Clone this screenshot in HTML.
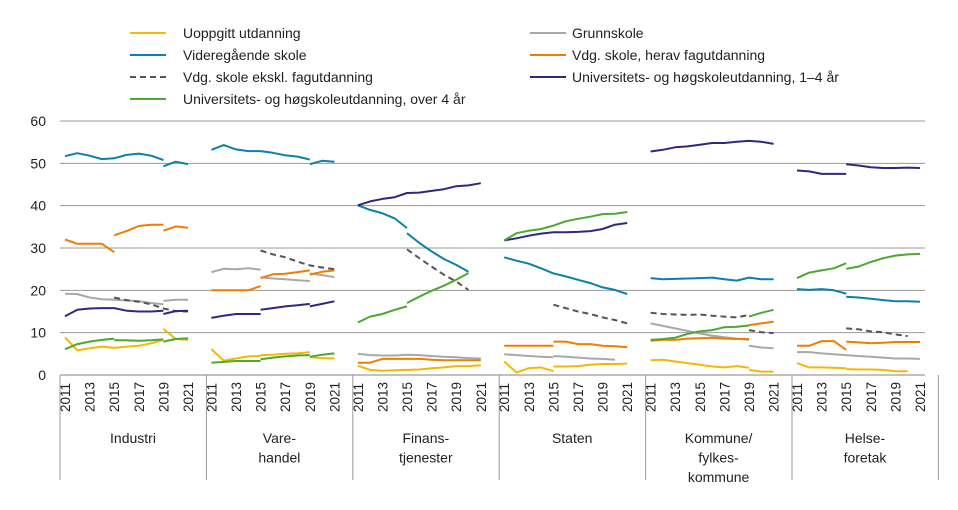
<!DOCTYPE html>
<html><head><meta charset="utf-8"><style>
body{margin:0;background:#fff;}
svg{display:block;font-family:"Liberation Sans",sans-serif;}
</style></head><body>
<svg id="chart" width="958" height="510" viewBox="0 0 958 510"></svg>
<script>
const panels = ["Industri","Vare-|handel","Finans-|tjenester","Staten","Kommune/|fylkes-|kommune","Helse-|foretak"];
const years = [2011,2012,2013,2014,2015,2016,2017,2018,2019,2020,2021];
const yTicks = [0,10,20,30,40,50,60];
// each panel: list of segments [startIndex, values...]
const uoppgitt = [
 [[0,8.9,5.8,6.3,6.7,6.4,6.7,6.9,7.5,8.3],[8,10.9,8.5,8.3]],
 [[0,6.1,3.4,3.9,4.4,4.5],[4,4.7,4.8,5.0,5.1,5.4],[8,4.2,4.0,3.9]],
 [[0,2.2,1.2,1.0,1.1,1.2,1.3,1.6,1.8,2.1,2.1,2.3]],
 [[0,3.2,0.6,1.6,1.8,0.9],[4,2.0,2.0,2.1,2.4,2.6,2.6,2.7]],
 [[0,3.5,3.6,3.2,2.8,2.4,2.0,1.8,2.1,1.7],[8,1.2,0.8,0.8]],
 [[0,2.8,1.8,1.8,1.7,1.6],[4,1.4,1.3,1.3,1.2,0.9,0.9]]
];
const grunnskole = [
 [[0,19.2,19.1,18.3,17.9,17.8,17.6,17.4,17.0,16.7],[8,17.5,17.8,17.8]],
 [[0,24.3,25.1,25.0,25.2,24.9],[4,23.1,22.8,22.6,22.4,22.2],[8,24.0,23.6,23.1]],
 [[0,5.0,4.7,4.6,4.6,4.8,4.7,4.5,4.3,4.2,4.0,3.9]],
 [[0,4.9,4.7,4.5,4.3,4.2],[4,4.5,4.3,4.1,3.9,3.8,3.6]],
 [[0,12.2,11.6,11.0,10.4,9.8,9.3,8.9,8.6,8.3],[8,6.9,6.5,6.3]],
 [[0,5.4,5.4,5.1,4.9,4.7,4.5,4.3,4.1,3.9,3.9,3.8]]
];
const videregaende = [
 [[0,51.7,52.4,51.8,51.0,51.2,52.0,52.3,51.8,50.8],[8,49.3,50.4,49.8]],
 [[0,53.2,54.3,53.3,52.9,52.9,52.5,51.9,51.6,50.9],[8,49.8,50.6,50.4]],
 [[0,40.1,39.0,38.2,37.0,34.7],[4,33.5,31.2,29.2,27.4,26.0,24.4]],
 [[0,27.8,27.0,26.3,25.2,24.0,23.3,22.5,21.7,20.7,20.1,19.1]],
 [[0,22.9,22.6,22.7,22.8,22.9,23.0,22.6,22.3,23.0,22.6,22.6]],
 [[0,20.3,20.1,20.3,20.0,19.2],[4,18.5,18.3,18.0,17.7,17.4,17.4,17.3]]
];
const fagutdanning = [
 [[0,32.0,31.0,31.0,31.0,29.0],[4,33.0,34.0,35.2,35.5,35.5],[8,34.1,35.1,34.8]],
 [[0,20.0,20.0,20.0,20.0,21.0],[4,22.9,23.8,23.9,24.3,24.7],[8,23.7,24.4,24.7]],
 [[0,2.9,2.9,3.8,3.8,3.8,3.8,3.6,3.5,3.5,3.5,3.5]],
 [[0,6.9,6.9,6.9,6.9,6.9],[4,7.9,7.9,7.3,7.3,6.9,6.8,6.6]],
 [[0,8.1,8.3,8.3,8.6,8.7,8.8,8.6,8.5,8.5],[8,11.8,12.2,12.6]],
 [[0,6.9,6.9,8.0,8.0,5.9],[4,7.9,7.7,7.5,7.6,7.8,7.8,7.8]]
];
const eksklFag = [
 [[4,18.3,17.7,17.3,16.7,15.7,15.1,15.0]],
 [[4,29.4,28.5,27.8,26.8,25.9,25.4,25.0]],
 [[4,29.7,27.6,25.6,23.7,22.1,20.1]],
 [[4,16.6,15.8,15.0,14.4,13.6,13.0,12.2]],
 [[0,14.7,14.4,14.3,14.2,14.3,14.0,13.8,13.6,14.2],[8,10.6,10.1,9.9]],
 [[4,11.0,10.8,10.3,10.1,9.6,9.2]]
];
const univKort = [
 [[0,13.9,15.4,15.7,15.8,15.8,15.2,15.0,15.0,15.2],[8,14.4,15.1,15.2]],
 [[0,13.5,14.0,14.4,14.4,14.4],[4,15.4,15.8,16.2,16.5,16.8],[8,16.2,16.8,17.4]],
 [[0,40.1,41.0,41.6,42.0,43.0,43.1,43.5,43.9,44.6,44.8,45.3]],
 [[0,31.8,32.3,32.9,33.4,33.7,33.7,33.8,34.0,34.5,35.5,35.9]],
 [[0,52.8,53.2,53.8,54.0,54.4,54.8,54.8,55.1,55.3,55.1,54.6]],
 [[0,48.3,48.1,47.5,47.5,47.5],[4,49.8,49.5,49.1,48.9,48.9,49.0,48.9]]
];
const univLang = [
 [[0,6.1,7.3,7.9,8.3,8.6],[4,8.2,8.2,8.1,8.2,8.4],[8,7.9,8.5,8.7]],
 [[0,2.9,3.1,3.3,3.3,3.3],[4,3.7,4.1,4.4,4.6,4.7],[8,4.3,4.8,5.1]],
 [[0,12.4,13.8,14.4,15.4,16.2],[4,17.0,18.5,19.9,21.1,22.5,24.1]],
 [[0,31.8,33.5,34.1,34.5,35.3,36.3,36.9,37.4,38.0,38.1,38.5]],
 [[0,8.3,8.5,8.8,9.7,10.3,10.6,11.3,11.4,11.7],[8,13.8,14.7,15.4]],
 [[0,22.9,24.2,24.7,25.2,26.4],[4,25.1,25.6,26.7,27.6,28.2,28.5,28.6]]
];
const seriesNames = ["Uoppgitt utdanning","Grunnskole","Videregående skole","Vdg. skole, herav fagutdanning","Vdg. skole ekskl. fagutdanning","Universitets- og høgskoleutdanning, 1–4 år","Universitets- og høgskoleutdanning, over 4 år"];
const seriesData = [uoppgitt,grunnskole,videregaende,fagutdanning,eksklFag,univKort,univLang];
const colors = ["#f8b600","#a8a8a8","#0a80aa","#f07d00","#555555","#2c2a80","#4aaa2e"];
const slugs = ["uoppgitt","grunnskole","videregaende","fagutdanning","ekskl-fag","univ-1-4","univ-over-4"];

const NS="http://www.w3.org/2000/svg";
const svg=document.getElementById('chart');
function mk(t,a,p){const e=document.createElementNS(NS,t);for(const k in a)e.setAttribute(k,a[k]);(p||svg).appendChild(e);return e;}
const y0=375, pxPer=4.233;
function yS(v){return y0-v*pxPer;}
function xS(p,i){return 65+p*146.4+i*12.3;}
const left=60,right=925;
// grid
yTicks.forEach(t=>{
  if(t>0){const g=mk('line',{x1:left,x2:right,y1:yS(t),y2:yS(t),stroke:'#9a9a9a','stroke-width':1});
  
  }
  const l=mk('text',{x:46,y:yS(t)+5,'text-anchor':'end','font-size':14,fill:'#222'});
  l.textContent=t;
  
  
});
const ax=mk('line',{x1:left,x2:right,y1:y0,y2:y0,stroke:'#9a9a9a','stroke-width':1.2});


for(let p=0;p<=panels.length;p++){
  const x=left+p*146.4;
  const s=mk('line',{x1:x,x2:x,y1:y0,y2:480,stroke:'#9a9a9a','stroke-width':1});
  
  
}
panels.forEach((name,p)=>{
  years.forEach((yr,i)=>{
    if(i%2)return;
    const x=xS(p,i);
    const t=mk('text',{x:0,y:0,transform:`translate(${x+5},412) rotate(-90)`,'font-size':13.5,fill:'#222'});
    t.textContent=yr;
    
    
  });
  const cx=left+p*146.4+73;
  name.split('|').forEach((ln,k)=>{
    const t=mk('text',{x:cx,y:443+k*19.5,'text-anchor':'middle','font-size':14,fill:'#222'});
    t.textContent=ln;
    
    
  });
});
// lines
seriesData.forEach((ser,s)=>{
  ser.forEach((segs,p)=>{
    segs.forEach(seg=>{
      const st=seg[0];const vals=seg.slice(1);
      const pts=vals.map((v,k)=>xS(p,st+k).toFixed(1)+','+yS(v).toFixed(1)).join(' ');
      const a={points:pts,fill:'none',stroke:colors[s],'stroke-width':2,'stroke-linejoin':'round'};
      if(s===4)a['stroke-dasharray']='6,4';
      const l=mk('polyline',a);
      
      
    });
  });
});
// legend
const legPos=[[130,183,33],[530,572,33],[130,183,55],[530,572,55],[130,183,77],[530,572,77],[130,183,99]];
const lgOrder=[0,1,2,3,4,5,6];
lgOrder.forEach((s,k)=>{
  const [lx,tx,ly]=legPos[k];
  const g=mk('g',{});
  
  
  const a={x1:lx,x2:lx+36,y1:ly,y2:ly,stroke:colors[s],'stroke-width':2};
  if(s===4)a['stroke-dasharray']='6,4';
  mk('line',a,g);
  const t=mk('text',{x:tx,y:ly+5,'font-size':14,fill:'#222'},g);
  t.textContent=seriesNames[s];
});
</script>
</body></html>
